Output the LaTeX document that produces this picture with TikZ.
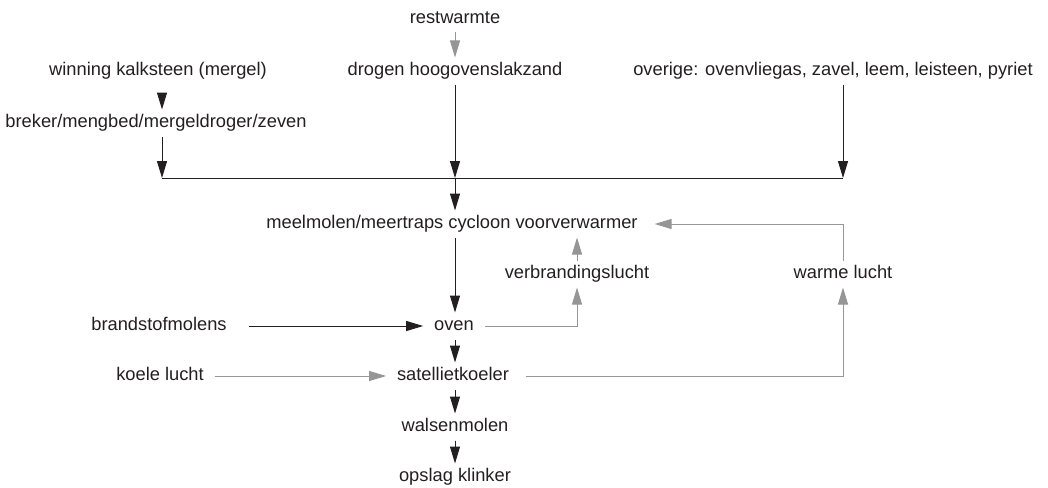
\documentclass[tikz,border=0pt]{standalone}
\usepackage{fontspec}
\setmainfont{Liberation Sans}
\usetikzlibrary{arrows.meta}
\definecolor{txtgray}{RGB}{35,31,32}
\definecolor{flowgray}{RGB}{150,150,152}
\tikzset{
  lbl/.style={text=txtgray, font=\fontsize{18.3}{20}\selectfont, text height=13pt, text depth=4pt, inner xsep=6pt, inner ysep=0pt, outer sep=5pt},
  blackflow/.style={draw=txtgray, line width=1pt, -{Triangle[length=17pt,width=10pt]}},
  grayflow/.style={draw=flowgray, line width=1pt, -{Triangle[length=17pt,width=10pt]}},
}
\begin{document}
\begin{tikzpicture}[x=1pt,y=1pt,yscale=-1,xscale=1]
\useasboundingbox (0,0) rectangle (1048,487);

%Text Nodes
\node[lbl] (restwarmte) at (455,19) {restwarmte};
\node[lbl] (drogen) at (455,71) {drogen hoogovenslakzand};
\node[lbl] (winning) at (158,71) {winning kalksteen (mergel)};
\node[lbl] (overige) at (833,71) {overige: ovenvliegas, zavel, leem, leisteen, pyriet};
\node[lbl] (breker) at (156,123) {breker/mengbed/mergeldroger/zeven};
\node[lbl] (meelmolen) at (452,224) {meelmolen/meertraps cycloon voorverwarmer};
\node[lbl] (verbranding) at (577,274) {verbrandingslucht};
\node[lbl] (warme) at (843,274) {warme lucht};
\node[lbl] (brandstof) at (159,326) {brandstofmolens};
\node[lbl] (oven) at (454,326) {oven};
\node[lbl] (koele) at (160,376) {koele lucht};
\node[lbl] (satelliet) at (453,376) {satellietkoeler};
\node[lbl] (walsen) at (455,427) {walsenmolen};
\node[lbl] (opslag) at (455,477) {opslag klinker};

%Collector line
\coordinate (joinL) at (162,178);
\coordinate (joinM) at (455,178);
\coordinate (joinR) at (843,178);
\draw [txtgray, line width=1pt] (joinL) -- (joinR) ;

%Straight Lines
\draw [grayflow] (restwarmte.south -| joinM) -- (drogen.north -| joinM) ;
\draw [blackflow, shorten <=10pt] (winning.south -| joinL) -- (breker.north -| joinL) ;
\draw [blackflow] (breker.south -| joinL) -- (joinL) ;
\draw [blackflow] (drogen.south -| joinM) -- (joinM) ;
\draw [blackflow] (overige.south -| joinR) -- (joinR) ;
\draw [blackflow] (joinM) -- (meelmolen.north -| joinM) ;
\draw [blackflow] (meelmolen.south -| joinM) -- (oven.north -| joinM) ;
\draw [blackflow, shorten <=11pt] (brandstof) -- (oven) ;
\draw [blackflow] (oven.south -| joinM) -- (satelliet.north -| joinM) ;
\draw [grayflow] (koele) -- (satelliet) ;
\draw [blackflow] (satelliet.south -| joinM) -- (walsen.north -| joinM) ;
\draw [blackflow] (walsen.south -| joinM) -- (opslag.north -| joinM) ;

%Return flows
\draw [grayflow] (oven.east) -| (verbranding.south) ;
\draw [grayflow] (verbranding.north) -- (verbranding.north |- meelmolen.south) ;
\draw [grayflow, shorten <=6pt] (satelliet.east) -| (warme.south) ;
\draw [grayflow, shorten >=6pt] (warme.north) |- (meelmolen.east) ;
\end{tikzpicture}
\end{document}
